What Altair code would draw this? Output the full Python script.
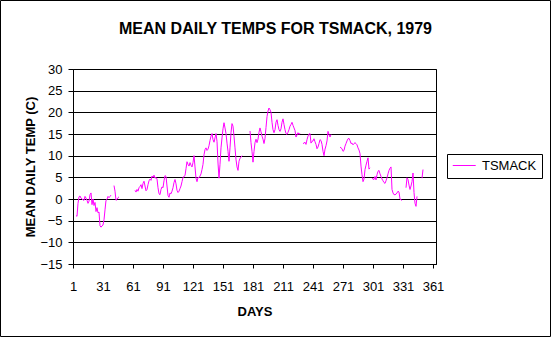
import altair as alt
import pandas as pd

FONT = "Liberation Sans"
series_name = "TSMACK"
chart_title = "MEAN DAILY TEMPS FOR TSMACK, 1979"

# first day of each unbroken run of readings
segment_starts = [4, 42, 63, 178, 231, 268, 300, 334, 350]

seg1 = [-3.8, -4.0, -1.0, 0.5, 0.7, 0.2, 0.0, -0.2, -0.3, 0.6,
        0.2, -0.3, -1.0, -0.5, 1.0, 1.4, -1.3, 0.0, -1.5, -0.8,
        -2.9, -2.0, -3.2, -3.0, -6.2, -6.5, -6.2, -6.0, -4.8, -2.5,
        -0.3, -0.1, 0.6, 0.3, 0.6, 0.9]
seg2 = [3.1, 1.8, -0.3, -0.1, 0.3, 0.5]
seg3 = [2.0, 1.6, 2.2, 1.8, 2.6, 2.9, 3.3, 2.4, 3.6, 4.1,
        3.0, 1.9, 2.2, 3.3, 4.2, 4.6, 4.3, 5.3, 5.0, 5.5,
        4.8, 5.0, 4.6, 2.6, 1.2, 1.0, 2.2, 2.8, 2.6, 4.2,
        5.4, 5.2, 3.0, 0.8, 0.4, 1.4, 1.2, 1.8, 2.6, 3.8,
        4.5, 3.5, 2.0, 1.5, 1.8, 2.4, 3.0, 4.0, 5.0, 5.2,
        5.4, 7.0, 8.6, 8.0, 7.6, 8.4, 7.8, 7.4, 8.4, 10.0,
        7.4, 4.8, 4.0, 5.0, 4.9, 5.3, 5.8, 6.8, 8.0, 10.2,
        11.4, 11.8, 11.2, 11.5, 12.3, 13.5, 14.5, 15.1, 13.7, 13.1,
        14.1, 15.1, 13.3, 8.3, 4.8, 8.0, 11.8, 14.1, 16.2, 17.6,
        16.4, 15.1, 12.9, 11.0, 8.7, 11.8, 15.3, 17.4, 16.8, 14.5,
        11.8, 9.1, 7.4, 6.6, 8.7, 9.4, 9.6, 10.0]
seg4 = [15.7, 13.0, 11.0, 8.5, 11.0, 13.0, 13.8, 13.0, 13.8, 15.4,
        16.4, 15.5, 14.5, 13.8, 12.8, 14.0, 16.5, 19.0, 20.3, 21.0,
        20.6, 20.0, 17.7, 16.0, 15.3, 16.0, 17.7, 18.3, 17.0, 16.0,
        15.6, 16.2, 17.7, 18.5, 17.2, 16.0, 15.1, 14.9, 15.4, 16.0,
        16.8, 17.2, 17.7, 17.0, 16.4, 15.8, 14.3, 14.8, 15.3, 14.9,
        15.2]
seg5 = [12.8, 12.9, 13.1, 12.6, 13.7, 14.5, 15.0, 15.1, 12.9, 13.3,
        13.4, 13.9, 13.2, 12.6, 11.6, 12.0, 12.8, 13.7, 13.5, 12.6,
        11.0, 10.0, 11.5, 12.3, 13.4, 15.6, 14.9, 14.3, 14.9]
seg6 = [12.0, 11.8, 11.6, 11.0, 11.2, 12.2, 12.8, 13.4, 13.9, 14.0,
        13.5, 12.8, 12.9, 12.5, 12.8, 13.0, 12.8, 12.5, 11.8, 11.3,
        10.5, 7.6, 5.6, 4.0, 4.6, 6.8, 7.8, 8.7, 9.5, 6.9,
        7.2]
seg7 = [4.8, 4.6, 4.5, 5.2, 4.4, 5.6, 6.4, 6.6, 5.8, 5.2,
        4.6, 4.2, 3.8, 3.6, 4.2, 4.9, 5.8, 6.6, 7.1, 7.4,
        2.2, 1.4, 1.0, 1.0, 1.1, 1.4, 1.8, 1.6, 0.0, -0.2,
        -0.3]
seg8 = [2.6, 4.9, 4.5, 3.2, 2.2, 3.0, 4.0, 6.0, 1.5, -1.0, -1.7, 0.6]
seg9 = [4.8, 6.8]
segments = [seg1, seg2, seg3, seg4, seg5, seg6, seg7, seg8, seg9]

x_ticks = [1, 31, 61, 91, 121, 151, 181, 211, 241, 271, 301, 331, 361]
y_ticks = [-15, -10, -5, 0, 5, 10, 15, 20, 25, 30]

rows = []
for s, (start, vals) in enumerate(zip(segment_starts, segments)):
    for i, v in enumerate(vals):
        rows.append({"day": start + i, "temp": v, "seg": s, "series": series_name})
df = pd.DataFrame(rows)

line = alt.Chart(df).mark_line(strokeWidth=1, clip=True).encode(
    x=alt.X(
        "day:Q",
        scale=alt.Scale(domain=[1, 364], nice=False, zero=False),
        axis=alt.Axis(
            values=x_ticks, title="DAYS", grid=False,
            tickSize=4, tickColor="black", domainColor="black",
            labelFont=FONT, labelFontSize=13, labelColor="black",
            labelPadding=22, labelBaseline="alphabetic",
            labelFlush=False, labelOverlap=False,
            titleFont=FONT, titleFontSize=13, titleFontWeight="bold",
            titleColor="black", titleY=51, titleBaseline="alphabetic",
        ),
    ),
    y=alt.Y(
        "temp:Q",
        scale=alt.Scale(domain=[-15, 30], nice=False, zero=False),
        axis=alt.Axis(
            values=y_ticks, title="MEAN DAILY TEMP (C)", grid=True,
            gridColor="black", gridOpacity=1, gridWidth=1,
            tickSize=5, tickColor="black", domainColor="black",
            labelFont=FONT, labelFontSize=13, labelColor="black",
            labelPadding=6, labelFlush=False, labelOverlap=False,
            titleFont=FONT, titleFontSize=13, titleFontWeight="bold",
            titleColor="black", titleX=-39, titleY=97.5,
            titleAngle=270, titleBaseline="alphabetic",
        ),
    ),
    color=alt.Color(
        "series:N",
        scale=alt.Scale(range=["#FF00FF"]),
        legend=alt.Legend(
            title=None, orient="none", legendX=374, legendY=85,
            strokeColor="black", fillColor="white", padding=5,
            cornerRadius=0, symbolType="M-1,0H3", symbolSize=132,
            symbolStrokeWidth=1, labelOffset=17,
            labelFont=FONT, labelFontSize=13, labelColor="black",
        ),
    ),
    detail="seg:N",
)

# outer chart frame (decoration)
frame = alt.Chart(alt.Data(values=[{"f": 1}])).mark_rect(
    filled=False, stroke="black", strokeWidth=1
).encode(
    x=alt.value(-72.5), x2=alt.value(477.5),
    y=alt.value(-68.5), y2=alt.value(267.5),
)

# chart title as a text mark, centred on the whole chart
title = alt.Chart(alt.Data(values=[{"t": chart_title}])).mark_text(
    font=FONT, fontSize=16, fontWeight="bold", color="black",
    align="center", baseline="alphabetic",
).encode(
    text="t:N", x=alt.value(202.5), y=alt.value(-35.5),
)

chart = alt.layer(frame, title, line).properties(
    width=363, height=195,
    padding={"left": 73, "top": 69, "right": 115, "bottom": 73},
    autosize=alt.AutoSizeParams(type="none"),
    background="white",
).configure_view(stroke="black", strokeWidth=1)

chart.save("out.html", embed_options={"renderer": "svg", "actions": False})
